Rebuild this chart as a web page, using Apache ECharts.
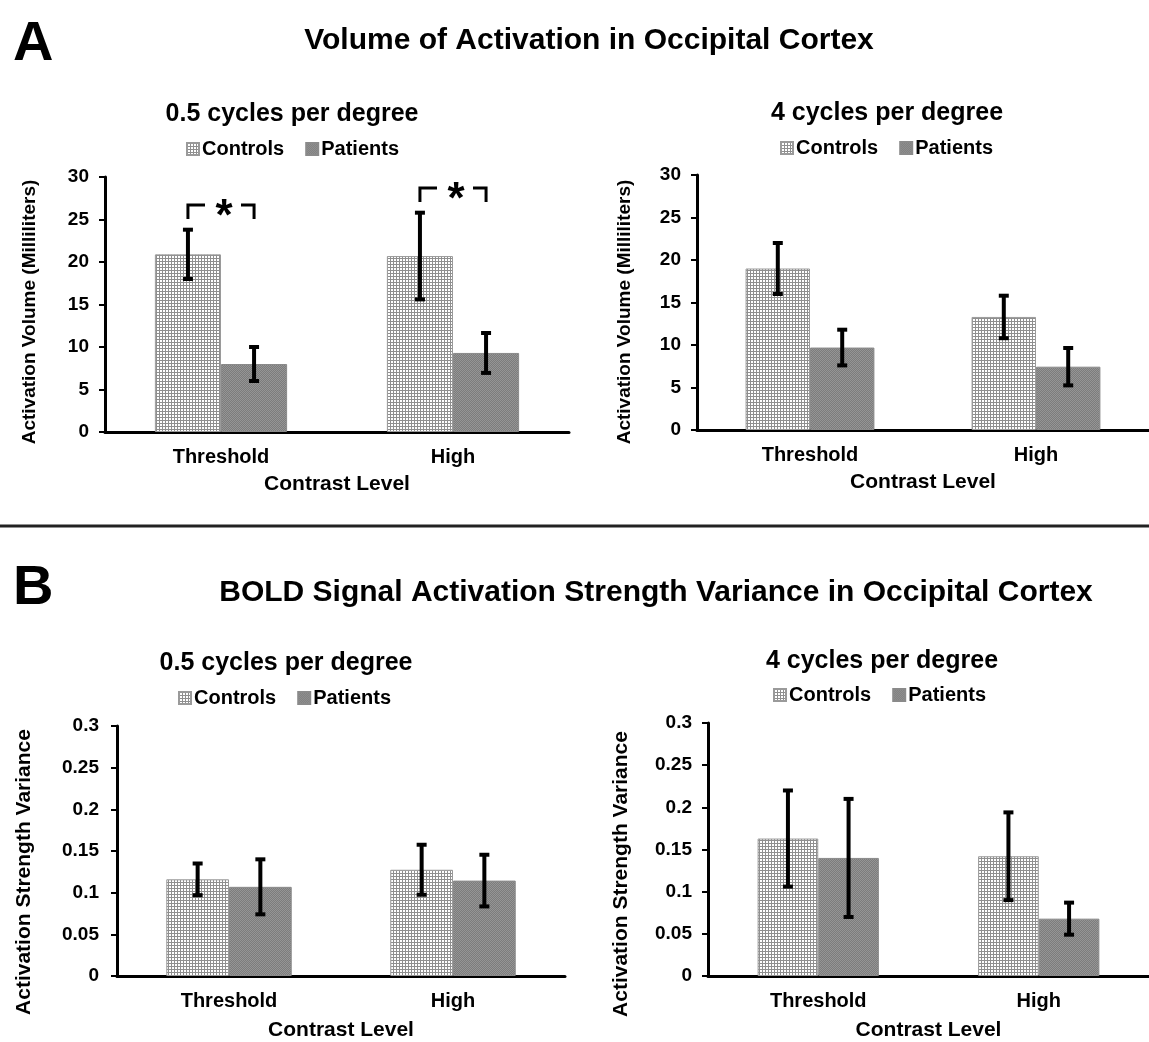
<!DOCTYPE html>
<html>
<head>
<meta charset="utf-8">
<script src="https://cdn.jsdelivr.net/npm/echarts@6/dist/echarts.min.js"></script>
<style>
  html, body { margin: 0; padding: 0; background: #fff; }
  #chart { width: 1149px; height: 1042px; }
</style>
</head>
<body>
<div id="chart"></div>
<script>
// ---- data ----
var categories = ['Threshold', 'High'];

// Volume of activation (mL), 0.5 cpd
var volLowControls = [20.9, 20.7];
var volLowControlsErr = [2.9, 5.1];
var volLowPatients = [8.0, 9.3];
var volLowPatientsErr = [2.0, 2.35];

// Volume of activation (mL), 4 cpd
var volHighControls = [19.0, 13.3];
var volHighControlsErr = [3.0, 2.5];
var volHighPatients = [9.7, 7.45];
var volHighPatientsErr = [2.1, 2.2];

// Activation strength variance, 0.5 cpd
var varLowControls = [0.116, 0.1275];
var varLowControlsErr = [0.019, 0.030];
var varLowPatients = [0.107, 0.1145];
var varLowPatientsErr = [0.033, 0.031];

// Activation strength variance, 4 cpd
var varHighControls = [0.163, 0.142];
var varHighControlsErr = [0.057, 0.052];
var varHighPatients = [0.140, 0.068];
var varHighPatientsErr = [0.070, 0.019];

// significance brackets (volume, 0.5 cpd): bracket height per category
var sigLevels = [26.7, 28.7];

var volTicks = [0, 30, 5];
var varTicks = [0, 0.3, 0.05];

// ---- fill patterns ----
function gridPattern() {
  var c = document.createElement('canvas');
  c.width = 3; c.height = 3;
  var g = c.getContext('2d');
  g.fillStyle = '#ffffff'; g.fillRect(0, 0, 3, 3);
  g.fillStyle = '#8f8f8f';
  g.fillRect(0, 0, 3, 1);
  g.fillRect(0, 0, 1, 3);
  return { image: c, repeat: 'repeat' };
}
function ditherPattern() {
  var c = document.createElement('canvas');
  c.width = 2; c.height = 2;
  var g = c.getContext('2d');
  g.fillStyle = '#7c7c7c'; g.fillRect(0, 0, 2, 2);
  g.fillStyle = '#959595';
  g.fillRect(0, 0, 1, 1);
  g.fillRect(1, 1, 1, 1);
  return { image: c, repeat: 'repeat' };
}
var controlsFill = gridPattern();
var patientsFill = ditherPattern();

var FONT = '"Liberation Sans", Arial, sans-serif';

// ---- panel layout ----
var panels = [
  { grid: { left: 105, right: 580, top: 177, height: 255 }, ticks: volTicks, gap: 0.43,
    yName: 'Activation Volume (Milliliters)', yNameSize: 19, yNamePos: [30, 312], labelMargin: 16, labelFmt: null,
    xNameGap: 42,
    c: volLowControls, ce: volLowControlsErr, p: volLowPatients, pe: volLowPatientsErr },
  { grid: { left: 697, right: -15, top: 175, height: 255 }, ticks: volTicks, gap: 0.43,
    yName: 'Activation Volume (Milliliters)', yNameSize: 19, yNamePos: [625, 312], labelMargin: 16, labelFmt: null,
    xNameGap: 42,
    c: volHighControls, ce: volHighControlsErr, p: volHighPatients, pe: volHighPatientsErr },
  { grid: { left: 117, right: 584, top: 726, height: 255 }, ticks: varTicks, gap: 0.44,
    yName: 'Activation Strength Variance', yNameSize: 21, yNamePos: [24, 872], labelMargin: 18, labelFmt: 'var',
    xNameGap: 44,
    c: varLowControls, ce: varLowControlsErr, p: varLowPatients, pe: varLowPatientsErr },
  { grid: { left: 708, right: -13, top: 723, height: 255 }, ticks: varTicks, gap: 0.45,
    yName: 'Activation Strength Variance', yNameSize: 21, yNamePos: [621, 874], labelMargin: 16, labelFmt: 'var',
    xNameGap: 44,
    c: varHighControls, ce: varHighControlsErr, p: varHighPatients, pe: varHighPatientsErr }
];

function fmtVar(v) {
  return (Math.round(v * 100) / 100).toString();
}

var grids = [], xAxes = [], yAxes = [], series = [], yNames = [];

panels.forEach(function (pn, i) {
  grids.push(pn.grid);
  xAxes.push({
    type: 'category', gridIndex: i, data: categories,
    axisLine: { lineStyle: { color: '#000', width: 3 } },
    axisTick: { show: false },
    axisLabel: { color: '#000', fontFamily: FONT, fontWeight: 'bold', fontSize: 20, margin: 15 },
    name: 'Contrast Level', nameLocation: 'middle', nameGap: pn.xNameGap,
    nameTextStyle: { color: '#000', fontFamily: FONT, fontWeight: 'bold', fontSize: 21 }
  });
  yAxes.push({
    type: 'value', gridIndex: i, min: pn.ticks[0], max: pn.ticks[1], interval: pn.ticks[2],
    splitLine: { show: false },
    axisLine: { show: true, lineStyle: { color: '#000', width: 3 } },
    axisTick: { show: true, length: 6, lineStyle: { color: '#000', width: 2 } },
    axisLabel: {
      color: '#000', fontFamily: FONT, fontWeight: 'bold', fontSize: 19, margin: pn.labelMargin,
      formatter: pn.labelFmt ? fmtVar : null
    }
  });
  // rotated y-axis title
  yNames.push({
    type: 'text', x: pn.yNamePos[0], y: pn.yNamePos[1], rotation: Math.PI / 2,
    style: {
      text: pn.yName, fill: '#000', font: 'bold ' + pn.yNameSize + 'px ' + FONT,
      textAlign: 'center', textVerticalAlign: 'middle'
    }
  });

  var gapPct = Math.round(pn.gap * 100) + '%';
  series.push({
    name: 'Controls', type: 'bar', xAxisIndex: i, yAxisIndex: i,
    data: pn.c, barGap: '0%', barCategoryGap: gapPct,
    itemStyle: { color: controlsFill, borderColor: '#9a9a9a', borderWidth: 1 }
  });
  series.push({
    name: 'Patients', type: 'bar', xAxisIndex: i, yAxisIndex: i,
    data: pn.p, barGap: '0%', barCategoryGap: gapPct,
    itemStyle: { color: patientsFill, borderColor: '#8a8a8a', borderWidth: 1 }
  });

  // error bars, one custom series per group
  [[pn.c, pn.ce, -1], [pn.p, pn.pe, 1]].forEach(function (grp) {
    var vals = grp[0], errs = grp[1], side = grp[2];
    series.push({
      type: 'custom', xAxisIndex: i, yAxisIndex: i, z: 10, silent: true,
      data: vals.map(function (v, k) { return [k, v, errs[k]]; }),
      renderItem: function (params, api) {
        var k = api.value(0), v = api.value(1), e = api.value(2);
        var band = api.size([1, 0])[0];
        var barW = band * (1 - pn.gap) / 2;
        var x = api.coord([k, v])[0] + side * barW / 2;
        var yTop = api.coord([k, v + e])[1];
        var yBot = api.coord([k, v - e])[1];
        var st = { stroke: '#000', lineWidth: 4 };
        return {
          type: 'group', children: [
            { type: 'line', shape: { x1: x, y1: yTop, x2: x, y2: yBot }, style: st },
            { type: 'line', shape: { x1: x - 5, y1: yTop, x2: x + 5, y2: yTop }, style: st },
            { type: 'line', shape: { x1: x - 5, y1: yBot, x2: x + 5, y2: yBot }, style: st }
          ]
        };
      }
    });
  });
});

// significance brackets on the 0.5 cpd volume panel
series.push({
  type: 'custom', xAxisIndex: 0, yAxisIndex: 0, z: 11, silent: true,
  data: sigLevels.map(function (lv, k) { return [k, lv]; }),
  renderItem: function (params, api) {
    var k = api.value(0), lv = api.value(1);
    var band = api.size([1, 0])[0];
    var barW = band * (1 - panels[0].gap) / 2;
    var pt = api.coord([k, lv]);
    var cx = pt[0], y = pt[1];
    var xl = cx - barW / 2, xr = cx + barW / 2;
    var s = { stroke: '#000', lineWidth: 3, fill: null };
    return {
      type: 'group', children: [
        { type: 'polyline', shape: { points: [[xl, y + 14], [xl, y], [cx - 16, y]] }, style: s },
        { type: 'polyline', shape: { points: [[cx + 20, y], [xr, y], [xr, y + 14]] }, style: s },
        { type: 'text', x: cx + 3, y: y + 13,
          style: { text: '*', fill: '#000', font: 'bold 44px ' + FONT, textAlign: 'center', textVerticalAlign: 'middle' } }
      ]
    };
  }
});

function legendAt(left, top) {
  return {
    left: left, top: top, data: ['Controls', 'Patients'],
    itemWidth: 12, itemHeight: 12, itemGap: 21, icon: 'rect',
    selectedMode: false,
    textStyle: { color: '#000', fontFamily: FONT, fontWeight: 'bold', fontSize: 20, padding: [0, 0, 0, -2] }
  };
}

function ttl(text, x, y, size) {
  return {
    text: text, left: x, top: y, textAlign: 'center',
    textStyle: { color: '#000', fontFamily: FONT, fontWeight: 'bold', fontSize: size }
  };
}

var chart = echarts.init(document.getElementById('chart'), null, { renderer: 'canvas' });
chart.setOption({
  backgroundColor: '#fff',
  animation: false,
  title: [
    { text: 'A', left: 8, top: 12, textStyle: { color: '#000', fontFamily: FONT, fontWeight: 'bold', fontSize: 56 } },
    ttl('Volume of Activation in Occipital Cortex', 584, 21, 30),
    { text: 'B', left: 8, top: 556, textStyle: { color: '#000', fontFamily: FONT, fontWeight: 'bold', fontSize: 56 } },
    ttl('BOLD Signal Activation Strength Variance in Occipital Cortex', 651, 573, 30),
    ttl('0.5 cycles per degree', 287, 97, 25),
    ttl('4 cycles per degree', 882, 96, 25),
    ttl('0.5 cycles per degree', 281, 646, 25),
    ttl('4 cycles per degree', 877, 644, 25)
  ],
  legend: [
    legendAt(181, 134),
    legendAt(775, 133),
    legendAt(173, 683),
    legendAt(768, 680)
  ],
  grid: grids,
  xAxis: xAxes,
  yAxis: yAxes,
  series: series,
  graphic: [
    { type: 'line', shape: { x1: 0, y1: 526, x2: 1149, y2: 526 }, style: { stroke: '#222', lineWidth: 3 } }
  ].concat(yNames)
});
</script>
</body>
</html>
